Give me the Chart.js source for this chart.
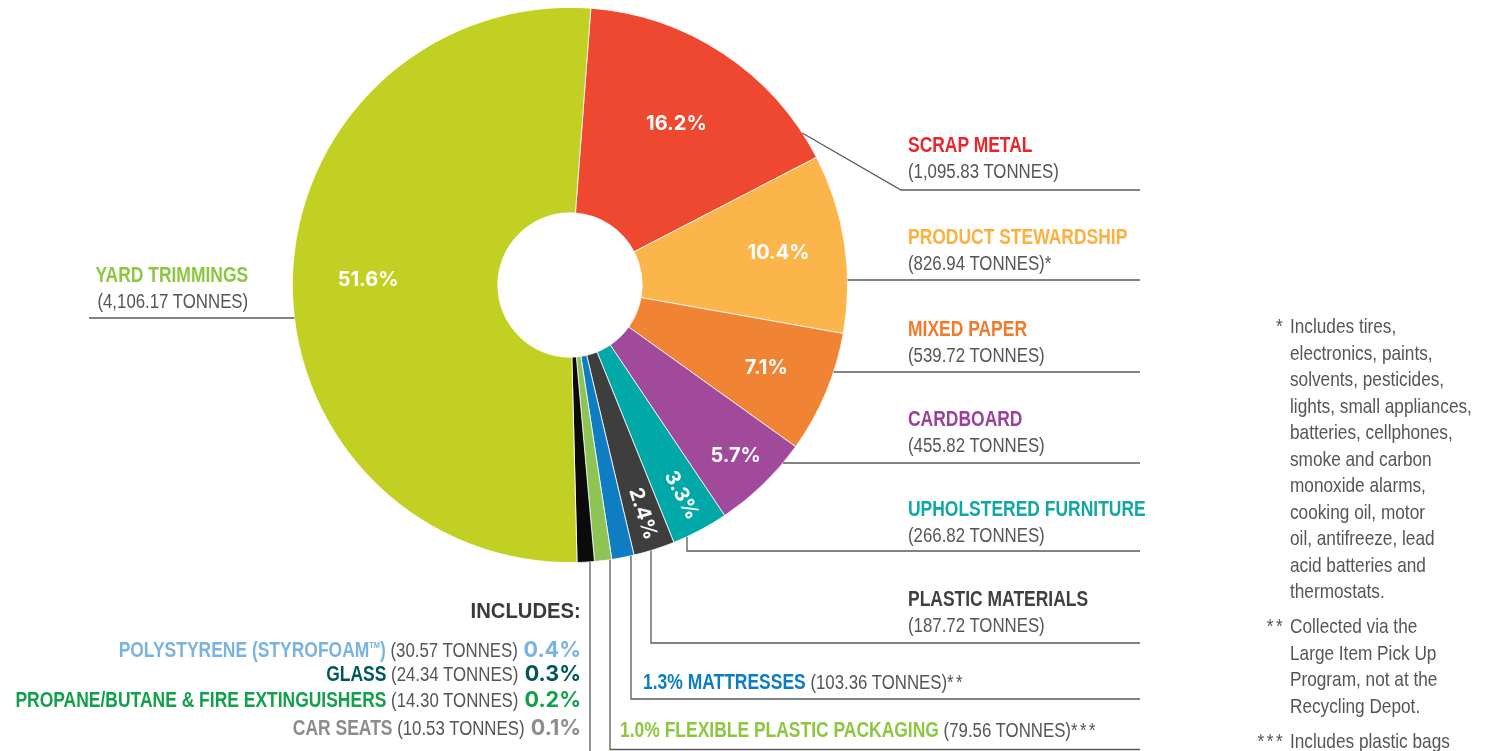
<!DOCTYPE html>
<html><head><meta charset="utf-8">
<script src="https://cdn.jsdelivr.net/npm/chart.js@4.4.1/dist/chart.umd.min.js"></script>
<style>
html,body{margin:0;padding:0;background:#fff;}
#wrap{position:relative;width:1487px;height:751px;overflow:hidden;}
#c{position:absolute;left:0;top:0;}
.lbl{position:absolute;font-family:"Liberation Sans",Arial,sans-serif;font-size:20.5px;line-height:26px;color:#555;white-space:nowrap;transform:scaleX(0.82);transform-origin:left top;}
.lbl.r{transform-origin:right top;text-align:right;}
.lbl b{font-weight:700;font-size:21.3px;}
.ast{letter-spacing:3px;}
.row{position:absolute;display:flex;justify-content:flex-end;align-items:baseline;white-space:nowrap;line-height:26px;}
.sq{display:inline-block;font-family:"Liberation Sans",Arial,sans-serif;font-size:20.5px;color:#555;transform:scaleX(0.82);transform-origin:right center;}
.sq b{font-weight:700;font-size:21.3px;}
.sq.big{font-size:22px;transform:scaleX(0.92);}
.sq.big b{font-size:22px;}
.pct{font-family:Inter,"Open Sans",sans-serif;font-weight:700;font-size:21.5px;margin-left:6px;}
.foot{position:absolute;left:1290px;font-family:"Liberation Sans",Arial,sans-serif;font-size:21px;line-height:26.5px;color:#555;white-space:nowrap;transform:scaleX(0.82);transform-origin:left top;}
.foot .mk{position:absolute;right:100%;margin-right:6px;top:0;letter-spacing:3px;}
sup.tm{font-size:9px;vertical-align:9px;}
</style></head>
<body>
<div id="wrap"><canvas id="c" width="1487" height="751"></canvas></div>
<script>
// ---- data ----
const categories = ['SCRAP METAL','PRODUCT STEWARDSHIP','MIXED PAPER','CARDBOARD','UPHOLSTERED FURNITURE','PLASTIC MATERIALS','MATTRESSES','FLEXIBLE PLASTIC PACKAGING','INCLUDES','YARD TRIMMINGS'];
const percentages = [16.2,10.4,7.1,5.7,3.3,2.4,1.3,1.0,1.0,51.6];
const tonnes = ['1,095.83','826.94','539.72','455.82','266.82','187.72','103.36','79.56',null,'4,106.17'];
const footMarks = ['','*','','','','','**','***','',''];
const includesNames = ['POLYSTYRENE (STYROFOAM\u2122)','GLASS','PROPANE/BUTANE & FIRE EXTINGUISHERS','CAR SEATS'];
const includesTonnes = ['30.57','24.34','14.30','10.53'];
const includesPct = [0.4,0.3,0.2,0.1];
const footnoteMarks = ['*','**','***'];
const footnotes = [
  ['Includes tires,','electronics, paints,','solvents, pesticides,','lights, small appliances,','batteries, cellphones,','smoke and carbon','monoxide alarms,','cooking oil, motor','oil, antifreeze, lead','acid batteries and','thermostats.'],
  ['Collected via the','Large Item Pick Up','Program, not at the','Recycling Depot.'],
  ['Includes plastic bags']
];

// ---- styles ----
const sliceColors = ['#EF4831','#FBB54A','#F08434','#A14A9C','#00A9A7','#3E3E3E','#0E7DC2','#8DC454','#0B0B0B','#C2D024'];
const textColors  = ['#E8272C','#FBB03F','#F07B2A','#9C3F98','#11A7A5','#404040','#0B7DC1','#8DC63F','#3a3a3a','#8DC63F'];
const includesColors = ['#7BB3E0','#00565B','#12A04B','#8C8C8C'];
const inLabelRadius = {0:193,1:211,2:213,3:238,4:238,5:240,9:202};
const inLabelRotate = {4:true,5:true};

const cx0 = 570, cy0 = 285, R0 = 278;
const W = 1487, H = 751;

const labelsPlugin = {
  id:'sliceLabels',
  afterDatasetsDraw(chart){
    const ctx = chart.ctx;
    const meta = chart.getDatasetMeta(0);
    ctx.save();
    ctx.fillStyle = '#fff';
    ctx.font = '700 20px Inter, "Open Sans", sans-serif';
    ctx.textAlign = 'center';
    ctx.textBaseline = 'middle';
    for (const k in inLabelRadius){
      const i = +k, arc = meta.data[i];
      const a = (arc.startAngle + arc.endAngle)/2;
      const r = inLabelRadius[k];
      const x = arc.x + r*Math.cos(a), y = arc.y + r*Math.sin(a);
      ctx.save();
      ctx.translate(x,y);
      if (inLabelRotate[i]) ctx.rotate(a);
      ctx.fillText(percentages[i].toFixed(1)+'%',0,0);
      ctx.restore();
    }
    // leader lines
    const arc0 = meta.data[0];
    const cx = arc0.x, cy = arc0.y, R = arc0.outerRadius;
    ctx.strokeStyle = '#5a5a5a';
    ctx.lineWidth = 1.3;
    const lineEnd = 1140;
    const a0 = arc0.startAngle + 0.9*(arc0.endAngle-arc0.startAngle);
    ctx.beginPath();
    ctx.moveTo(cx+R*Math.cos(a0), cy+R*Math.sin(a0));
    ctx.lineTo(901,190); ctx.lineTo(lineEnd,190); ctx.stroke();
    [[1,280],[2,372],[3,463]].forEach(([i,y])=>{
      const x = cx + Math.sqrt(R*R-(y-cy)*(y-cy));
      ctx.beginPath(); ctx.moveTo(x,y); ctx.lineTo(lineEnd,y); ctx.stroke();
    });
    {
      const y = 318; const x = cx - Math.sqrt(R*R-(y-cy)*(y-cy));
      ctx.beginPath(); ctx.moveTo(89,y); ctx.lineTo(x,y); ctx.stroke();
    }
    [[4,687,551],[5,651,643],[6,631,699],[7,610,749.5],[8,590,760]].forEach(([i,x,y])=>{
      const y0 = cy + Math.sqrt(R*R-(x-cx)*(x-cx));
      ctx.beginPath(); ctx.moveTo(x,y0); ctx.lineTo(x,y);
      if (i!==8) ctx.lineTo(lineEnd,y);
      ctx.stroke();
    });
    ctx.restore();
  }
};

new Chart(document.getElementById('c'), {
  type:'doughnut',
  data:{labels:categories, datasets:[{data:percentages, backgroundColor:sliceColors, borderColor:'#ffffff', borderWidth:0.8}]},
  options:{
    responsive:false, animation:false, devicePixelRatio:1,
    rotation:4.3, cutout:'26%',
    layout:{padding:{left:cx0-R0, right:W-(cx0+R0), top:cy0-R0, bottom:H-(cy0+R0)}},
    plugins:{legend:{display:false}, tooltip:{enabled:false}}
  },
  plugins:[labelsPlugin]
});

// ---- HTML labels ----
const wrap = document.getElementById('wrap');
function addDiv(cls, style, html){
  const d = document.createElement('div'); d.className = cls; Object.assign(d.style, style); d.innerHTML = html; wrap.appendChild(d); return d;
}
function esc(s){return s.replace(/&/g,'&amp;').replace(/\u2122/g,'<sup class="tm">TM</sup>');}
function ast(m){return m ? `<span class="ast">${m}</span>` : '';}
const blockTops = [132,224,316,406,496,586];
for (let i=0;i<6;i++){
  addDiv('lbl',{left:'908px',top:blockTops[i]+'px'},
    `<b style="color:${textColors[i]}">${categories[i]}</b><br>(${tonnes[i]} TONNES)${ast(footMarks[i])}`);
}
addDiv('lbl',{left:'643px',top:'669px'},
  `<b style="color:${textColors[6]}">${percentages[6].toFixed(1)}% ${categories[6]}</b> (${tonnes[6]} TONNES)${ast(footMarks[6])}`);
addDiv('lbl',{left:'620px',top:'717px'},
  `<b style="color:${textColors[7]}">${percentages[7].toFixed(1)}% ${categories[7]}</b> (${tonnes[7]} TONNES)${ast(footMarks[7])}`);
addDiv('lbl r',{right:(W-248)+'px',top:'262px'},
  `<b style="color:${textColors[9]}">${categories[9]}</b><br>(${tonnes[9]} TONNES)`);
// includes
addDiv('row',{right:(W-581)+'px',top:'598px'},`<span class="sq big"><b style="color:#3a3a3a">${categories[8]}:</b></span>`);
const incTops = [632,660,686,714];
for (let i=0;i<includesNames.length;i++){
  addDiv('row',{right:(W-581)+'px',top:incTops[i]+'px'},
    `<span class="sq"><b style="color:${includesColors[i]}">${esc(includesNames[i])}</b> (${includesTonnes[i]} TONNES)</span><span class="pct" style="color:${includesColors[i]}">${includesPct[i].toFixed(1)}%</span>`);
}
// footnotes
const footTops = [313, 313+26.5*11+8.5, 313+26.5*15+17];
footnotes.forEach((lines,k)=>{
  addDiv('foot',{top:footTops[k]+'px'}, `<span class="mk">${footnoteMarks[k]}</span>`+lines.join('<br>'));
});
</script>
</body></html>
